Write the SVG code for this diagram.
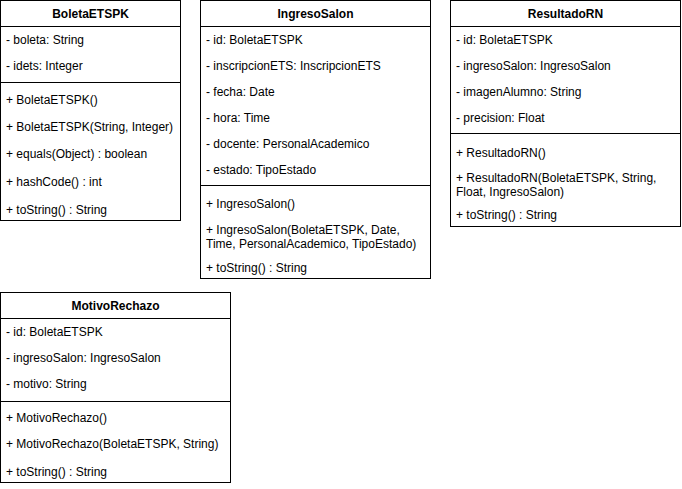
<svg xmlns="http://www.w3.org/2000/svg" width="682" height="489" viewBox="0 0 682 489">
  <style>
    .box { fill: #ffffff; stroke: #000000; stroke-width: 1; }
    .sep { stroke: #000000; stroke-width: 1; fill: none; }
    .title { font-family: "Liberation Sans", Arial, Helvetica, sans-serif; font-size: 12px; font-weight: bold; fill: #000000; text-anchor: middle; }
    .row { font-family: "Liberation Sans", Arial, Helvetica, sans-serif; font-size: 12px; fill: #000000; }
  </style>
  <rect x="0" y="0" width="682" height="489" fill="#ffffff"/>

  <!-- BoletaETSPK -->
  <g id="BoletaETSPK">
    <rect class="box" x="0.5" y="0.5" width="180" height="220"/>
    <line class="sep" x1="0.5" y1="26.5" x2="180.5" y2="26.5"/>
    <line class="sep" x1="0.5" y1="82.5" x2="180.5" y2="82.5"/>
    <text class="title" x="90.5" y="17.5">BoletaETSPK</text>
    <text class="row" x="6" y="44">- boleta: String</text>
    <text class="row" x="6" y="70">- idets: Integer</text>
    <text class="row" x="6" y="104">+ BoletaETSPK()</text>
    <text class="row" x="6" y="130.5">+ BoletaETSPK(String, Integer)</text>
    <text class="row" x="6" y="158">+ equals(Object) : boolean</text>
    <text class="row" x="6" y="186">+ hashCode() : int</text>
    <text class="row" x="6" y="214">+ toString() : String</text>
  </g>

  <!-- IngresoSalon -->
  <g id="IngresoSalon">
    <rect class="box" x="200.5" y="0.5" width="230" height="278"/>
    <line class="sep" x1="200.5" y1="26.5" x2="430.5" y2="26.5"/>
    <line class="sep" x1="200.5" y1="185.5" x2="430.5" y2="185.5"/>
    <text class="title" x="315.5" y="17.5">IngresoSalon</text>
    <text class="row" x="206" y="44">- id: BoletaETSPK</text>
    <text class="row" x="206" y="70">- inscripcionETS: InscripcionETS</text>
    <text class="row" x="206" y="96">- fecha: Date</text>
    <text class="row" x="206" y="122">- hora: Time</text>
    <text class="row" x="206" y="148">- docente: PersonalAcademico</text>
    <text class="row" x="206" y="174">- estado: TipoEstado</text>
    <text class="row" x="206" y="208">+ IngresoSalon()</text>
    <text class="row" x="206" y="233.5">+ IngresoSalon(BoletaETSPK, Date,</text>
    <text class="row" x="206" y="247.5">Time, PersonalAcademico, TipoEstado)</text>
    <text class="row" x="206" y="271.5">+ toString() : String</text>
  </g>

  <!-- ResultadoRN -->
  <g id="ResultadoRN">
    <rect class="box" x="450.5" y="0.5" width="230" height="226"/>
    <line class="sep" x1="450.5" y1="26.5" x2="680.5" y2="26.5"/>
    <line class="sep" x1="450.5" y1="133.5" x2="680.5" y2="133.5"/>
    <text class="title" x="565.5" y="17.5">ResultadoRN</text>
    <text class="row" x="456" y="44">- id: BoletaETSPK</text>
    <text class="row" x="456" y="70">- ingresoSalon: IngresoSalon</text>
    <text class="row" x="456" y="96">- imagenAlumno: String</text>
    <text class="row" x="456" y="122">- precision: Float</text>
    <text class="row" x="456" y="157">+ ResultadoRN()</text>
    <text class="row" x="456" y="181.5">+ ResultadoRN(BoletaETSPK, String,</text>
    <text class="row" x="456" y="196">Float, IngresoSalon)</text>
    <text class="row" x="456" y="219">+ toString() : String</text>
  </g>

  <!-- MotivoRechazo -->
  <g id="MotivoRechazo">
    <rect class="box" x="0.5" y="292.5" width="230" height="190"/>
    <line class="sep" x1="0.5" y1="318.5" x2="230.5" y2="318.5"/>
    <line class="sep" x1="0.5" y1="401.5" x2="230.5" y2="401.5"/>
    <text class="title" x="115.5" y="310">MotivoRechazo</text>
    <text class="row" x="6" y="336">- id: BoletaETSPK</text>
    <text class="row" x="6" y="362">- ingresoSalon: IngresoSalon</text>
    <text class="row" x="6" y="388">- motivo: String</text>
    <text class="row" x="6" y="422">+ MotivoRechazo()</text>
    <text class="row" x="6" y="448">+ MotivoRechazo(BoletaETSPK, String)</text>
    <text class="row" x="6" y="476">+ toString() : String</text>
  </g>

  <!-- no associations are drawn between the classes -->
  <g id="connectors"></g>
</svg>
